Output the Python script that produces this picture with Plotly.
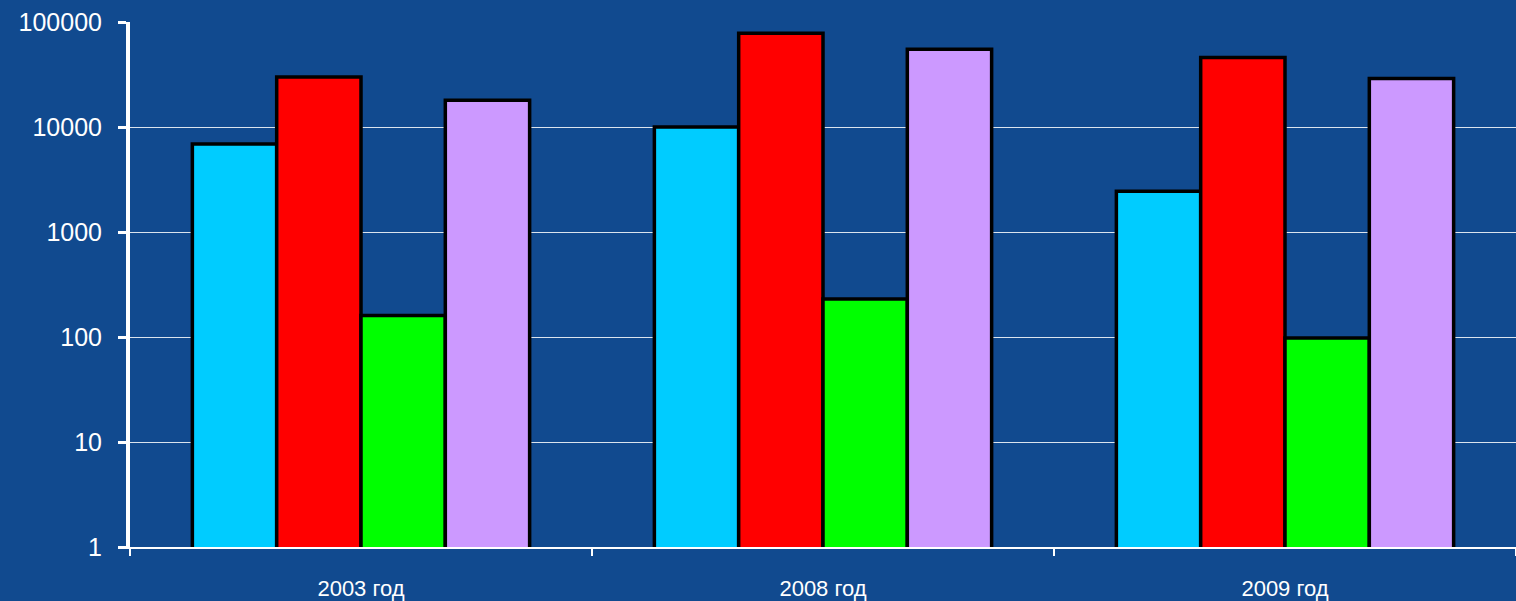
import plotly.graph_objects as go

# categories and series values
years = ["2003 год", "2008 год", "2009 год"]
series_1 = [6900, 10000, 2450]
series_2 = [30000, 78000, 46000]
series_3 = [160, 230, 98]
series_4 = [18000, 55000, 29000]

series_names = ["Ряд 1", "Ряд 2", "Ряд 3", "Ряд 4"]
series_colors = ["#00CCFF", "#FF0000", "#00FF00", "#CC99FF"]

fig = go.Figure()
for name, values, color in zip(series_names, [series_1, series_2, series_3, series_4], series_colors):
    fig.add_trace(
        go.Bar(
            x=years,
            y=values,
            name=name,
            marker=dict(color=color, line=dict(color="black", width=3.5)),
        )
    )

fig.update_layout(
    width=1516,
    height=601,
    margin=dict(l=130, r=0, t=22, b=54),
    paper_bgcolor="#114a8f",
    plot_bgcolor="#114a8f",
    barmode="group",
    bargap=0.27,
    bargroupgap=0,
    showlegend=False,
    font=dict(family="Liberation Sans, Arial, sans-serif", color="white"),
)

fig.update_xaxes(
    showgrid=False,
    showline=True,
    linecolor="white",
    linewidth=1.5,
    ticks="outside",
    tickson="boundaries",
    ticklen=7,
    tickwidth=2,
    tickcolor="white",
    tickfont=dict(size=22, color="white"),
    ticklabelstandoff=21,
)

fig.update_yaxes(
    type="log",
    range=[0, 5],
    dtick=1,
    tickformat="d",
    showgrid=True,
    gridcolor="rgba(255,255,255,0.85)",
    gridwidth=1,
    showline=True,
    linecolor="white",
    linewidth=4,
    ticks="outside",
    ticklen=8,
    tickwidth=3,
    tickcolor="white",
    tickfont=dict(size=25, color="white"),
    ticklabelstandoff=11,
    zeroline=False,
)

# drop the default page margin so the figure fills the window
fig.write_html(
    "out.html",
    config={"displayModeBar": False},
    post_script="document.body.style.margin='0';",
)
